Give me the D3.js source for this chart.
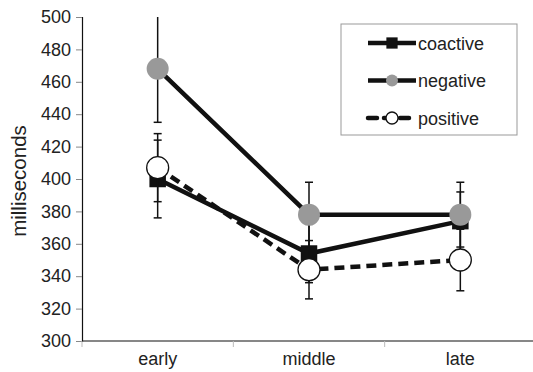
<!DOCTYPE html>
<html>
<head>
<meta charset="utf-8">
<script src="https://cdn.jsdelivr.net/npm/d3@7"></script>
<style>
  body { margin: 0; background: #fff; }
  svg { display: block; font-family: "Liberation Sans", Arial, sans-serif; }
</style>
</head>
<body>
<svg class="chart" width="533" height="372"></svg>
<script>
// data
var phases = ["early", "middle", "late"];
var seriesNames = ["coactive", "negative", "positive"];
var coactive = [400, 354, 374];
var negative = [468, 378, 378];
var positive = [407, 344, 350];
var coactiveErr = [24, 18, 18];
var negativeErr = [33, 20, 20];
var positiveErr = [21, 18, 19];
var yTicks = [300, 320, 340, 360, 380, 400, 420, 440, 460, 480, 500];

var svg = d3.select("svg.chart"),
    margin = {top: 17, right: -3, bottom: 31, left: 82};
var width = 533 - margin.left - margin.right,
    height = 372 - margin.top - margin.bottom;
var g = svg.append("g").attr("transform", "translate(" + margin.left + "," + margin.top + ")");

var x = d3.scaleBand().domain(phases).range([0, width]);
var y = d3.scaleLinear().domain([300, 500]).range([height, 0]);

var series = [
  {name: "coactive", values: coactive, err: coactiveErr, shape: "square", fill: "#111", dash: null},
  {name: "negative", values: negative, err: negativeErr, shape: "circle", fill: "#999", dash: null},
  {name: "positive", values: positive, err: positiveErr, shape: "circle", fill: "#fff", dash: "10,6"}
];

// y axis
var yAxis = g.append("g")
    .call(d3.axisLeft(y).tickValues(yTicks).tickSize(6).tickPadding(5));
yAxis.attr("font-size", null).attr("font-family", null);
yAxis.select(".domain").attr("stroke", "#111").attr("stroke-width", 1.2);
yAxis.selectAll(".tick line").attr("stroke", "#888");
yAxis.selectAll(".tick text").style("font-size", "18px").attr("fill", "#222");

// x axis
var xAxis = g.append("g").attr("transform", "translate(0," + height + ")");
xAxis.append("line").attr("x1", 0).attr("x2", width).attr("stroke", "#111").attr("stroke-width", 1.2);
var bounds = [0].concat(phases.map(function(p) { return x(p) + x.bandwidth(); }));
xAxis.selectAll("line.bt").data(bounds).enter().append("line")
    .attr("class", "bt")
    .attr("x1", function(d) { return d; }).attr("x2", function(d) { return d; })
    .attr("y1", 0).attr("y2", 6)
    .attr("stroke", "#bbb");
xAxis.selectAll("text").data(phases).enter().append("text")
    .attr("x", function(d) { return x(d) + x.bandwidth() / 2; })
    .attr("y", 24)
    .attr("text-anchor", "middle")
    .style("font-size", "18px")
    .attr("fill", "#222")
    .text(function(d) { return d; });

// y label
svg.append("text")
    .attr("transform", "translate(26," + (margin.top + height / 2 + 2) + ") rotate(-90)")
    .attr("text-anchor", "middle")
    .style("font-size", "20.5px")
    .attr("fill", "#222")
    .text("milliseconds");

var cx = function(i) { return x(phases[i]) + x.bandwidth() / 2; };
var line = d3.line()
    .x(function(d, i) { return cx(i); })
    .y(function(d) { return y(d); });

function drawMarker(sel, s, px, py, size) {
  if (s.shape === "square") {
    sel.append("rect")
        .attr("x", px - size * 0.75).attr("y", py - size * 0.75)
        .attr("width", size * 1.5).attr("height", size * 1.5)
        .attr("fill", s.fill);
  } else {
    sel.append("circle")
        .attr("cx", px).attr("cy", py).attr("r", size)
        .attr("fill", s.fill)
        .attr("stroke", s.fill === "#fff" ? "#111" : "none")
        .attr("stroke-width", 1.3);
  }
}

var plot = g.append("g");

series.forEach(function(s) {
  var sg = plot.append("g");
  // error bars
  s.values.forEach(function(v, i) {
    var hi = Math.min(v + s.err[i], 500), lo = v - s.err[i];
    var eb = sg.append("g").attr("stroke", "#111").attr("stroke-width", 1.5);
    eb.append("line").attr("x1", cx(i)).attr("x2", cx(i)).attr("y1", y(hi)).attr("y2", y(lo));
    if (v + s.err[i] <= 500) {
      eb.append("line").attr("x1", cx(i) - 4).attr("x2", cx(i) + 4).attr("y1", y(hi)).attr("y2", y(hi));
    }
    eb.append("line").attr("x1", cx(i) - 4).attr("x2", cx(i) + 4).attr("y1", y(lo)).attr("y2", y(lo));
  });
  sg.append("path")
      .datum(s.values)
      .attr("d", line)
      .attr("fill", "none")
      .attr("stroke", "#111")
      .attr("stroke-width", 4.5)
      .attr("stroke-dasharray", s.dash);
  s.values.forEach(function(v, i) {
    drawMarker(sg, s, cx(i), y(v), s.shape === "square" ? 11 : 11);
  });
});

// legend
var lg = svg.append("g").attr("transform", "translate(341,24)");
lg.append("rect").attr("width", 176).attr("height", 111)
    .attr("fill", "#fff").attr("stroke", "#999").attr("stroke-width", 1);
series.forEach(function(s, i) {
  var ly = 19 + i * 37.5;
  var row = lg.append("g");
  row.append("line").attr("x1", 27).attr("x2", 75).attr("y1", ly).attr("y2", ly)
      .attr("stroke", "#111").attr("stroke-width", 4.5)
      .attr("stroke-dasharray", s.dash ? "9,7" : null)
      .attr("stroke-linecap", s.dash ? "round" : null);
  drawMarker(row, s, 51, ly, s.shape === "square" ? 7.5 : 6);
  row.append("text").attr("x", 77).attr("y", ly + 6.5)
      .style("font-size", "18px").attr("fill", "#222")
      .text(seriesNames[i]);
});
</script>
</body>
</html>
